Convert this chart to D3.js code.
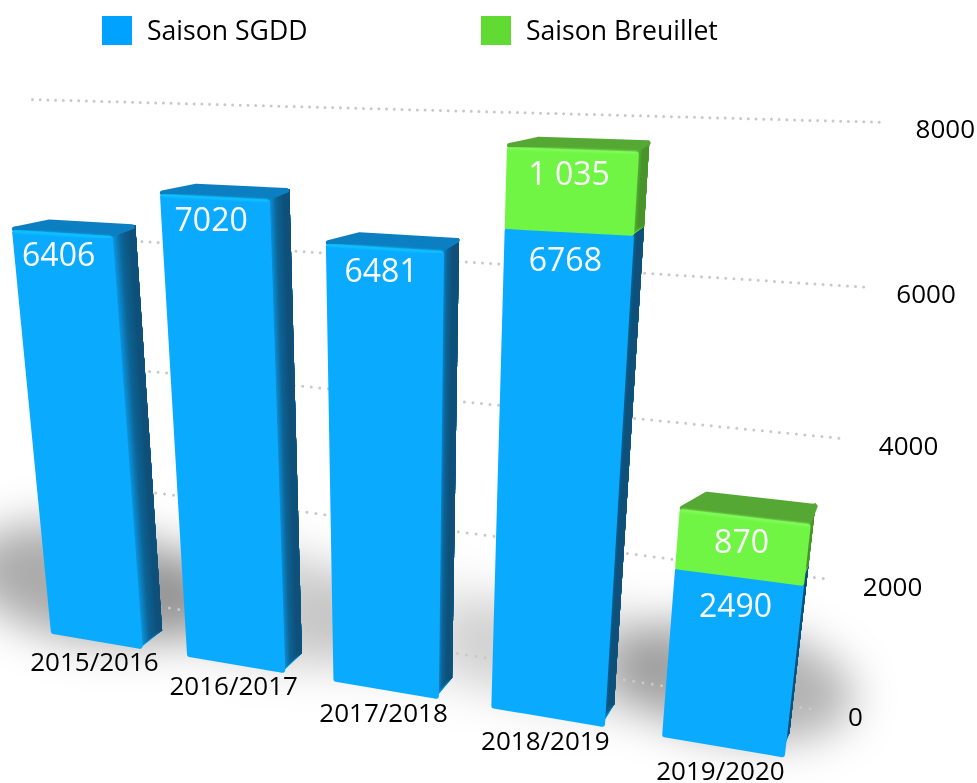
<!DOCTYPE html>
<html>
<head>
<meta charset="utf-8">
<title>Saisons</title>
<script src="https://d3js.org/d3.v7.min.js"></script>
<style>
    html, body { margin: 0; padding: 0; background: #fff; }
    svg { display: block; }
    text { font-family: "Open Sans", "Noto Sans", sans-serif; }
</style>
</head>
<body>
<div id="chart"></div>
<script>
// chart values
const categories = ["2015/2016", "2016/2017", "2017/2018", "2018/2019", "2019/2020"];
const sgdd = [6406, 7020, 6481, 6768, 2490];
const breuillet = [0, 0, 0, 1035, 870];
const breuilletLabels = ["", "", "", "1 035", "870"];
const yTicks = [0, 2000, 4000, 6000, 8000];
const seriesNames = ["Saison SGDD", "Saison Breuillet"];

const width = 977, height = 783;

const svg = d3.select("#chart").append("svg")
    .attr("width", width)
    .attr("height", height);
const defs = svg.append("defs");

// blur for the floor shadows
defs.append("filter").attr("id", "soft")
    .attr("x", "-60%").attr("y", "-60%").attr("width", "220%").attr("height", "220%")
    .append("feGaussianBlur").attr("stdDeviation", 22);
defs.append("filter").attr("id", "glow")
    .append("feGaussianBlur").attr("stdDeviation", 0.8);

// category position and value height, before the perspective is applied
const u = d3.scaleBand().domain(categories).range([0, 4.685]).paddingInner(0.315);
const t = d3.scaleLinear().domain([0, 8000]).range([0, 8]);

// perspective of the 3d plot, fitted on the picture. w is the depth (0 = front of the bars)
function project(pu, pt, w) {
    const q = 0.025 * (w || 0);
    const den = 1 - 0.03506 * pu - 0.016 * pt + q;
    return [
        (51 + 129.3 * pu - 6.35 * pt + 908 * q) / den,
        (634 - 66.9 * pt - 117 * q) / den
    ];
}

const line = d3.line();

// series stack
const table = categories.map((c, i) => ({category: c, sgdd: sgdd[i], breuillet: breuillet[i]}));
const stacked = d3.stack().keys(["sgdd", "breuillet"])(table);

const colors = {
    sgdd: {
        front: "#0aabff", edge: "#12c6ff", top: "#0b7fc2",
        side: d3.scaleLinear().domain([0, 0.25, 0.5, 1]).range(["#0aabff", "#0c86c8", "#0d6496", "#0e4d74"])
    },
    breuillet: {
        front: "#70f545", edge: "#86fb5e", top: "#55a833",
        side: d3.scaleLinear().domain([0, 0.25, 1]).range(["#70f545", "#5cc437", "#468f2a"])
    }
};

// shadows
const shadowStrength = [0.33, 0.17, 0.07, 0.12, 0.3];
const shadowShift = [-38, 0, 0, 0, 0];
const shadowGroup = svg.append("g").attr("filter", "url(#soft)");
categories.forEach(function (c, i) {
    const mid = u(c) + u.bandwidth() / 2;
    const p = project(mid, 0, 1.6);
    const cx = p[0] + shadowShift[i], cy = p[1] - 28;
    shadowGroup.append("ellipse")
        .attr("cx", cx)
        .attr("cy", cy)
        .attr("rx", 125)
        .attr("ry", 58)
        .attr("transform", `rotate(10 ${cx} ${cy})`)
        .attr("fill", "#000")
        .attr("opacity", shadowStrength[i]);
});

// grid lines on the back wall
const dash = d3.scaleLinear().domain([0, 8000]).range([9.4, 7.7]);
const grid = svg.append("g");
yTicks.forEach(function (d) {
    grid.append("path")
        .attr("d", line([project(-0.14, t(d), 2.12), project(4.8, t(d), 2.12)]))
        .attr("fill", "none")
        .attr("stroke", "#c9c9c9")
        .attr("stroke-width", 3)
        .attr("stroke-linecap", "round")
        .attr("stroke-dasharray", `0 ${dash(d)}`);

    const pos = project(4.97, t(d), 2.12);
    svg.append("text")
        .attr("x", pos[0] + 4 - t(d) * 1.1)
        .attr("y", pos[1] + 12 + t(d) * 0.3)
        .attr("font-size", 26)
        .attr("fill", "#000")
        .text(d);
});

// bars, one face at a time
const steps = d3.range(0, 1, 1 / 14);
const barGroup = svg.append("g");
categories.forEach(function (c, i) {
    const bar = barGroup.append("g");
    const u0 = u(c), u1 = u(c) + u.bandwidth();
    const tops = [];

    stacked.forEach(function (layer) {
        const k = layer.key;
        const t0 = t(layer[i][0]), t1 = t(layer[i][1]);
        if (t1 <= t0) return;
        tops.push({key: k, t0: t0, t1: t1});

        // side face, painted over itself from front to back to shade it along the depth
        steps.forEach(function (s) {
            bar.append("path")
                .attr("d", line([project(u1 - 0.03, t0, s), project(u1 - 0.03, t1, s), project(u1, t1, 1), project(u1, t0, 1)]) + "Z")
                .attr("fill", colors[k].side(s));
        });
    });

    // top face of the whole stack
    const last = tops[tops.length - 1];
    bar.append("path")
        .attr("d", line([project(u0 + 0.02, last.t1, 0), project(u1 - 0.02, last.t1, 0), project(u1, last.t1, 0.85), project(u0 + 0.12, last.t1, 0.85)]) + "Z")
        .attr("fill", colors[last.key].top)
        .attr("stroke", colors[last.key].top)
        .attr("stroke-width", 5)
        .attr("stroke-linejoin", "round");

    // front faces
    tops.forEach(function (d) {
        const inset = d === last ? 0.05 : 0;
        bar.append("path")
            .attr("d", line([project(u0 + 0.02, d.t0 + 0.05, 0), project(u1 - 0.02, d.t0 + 0.05, 0), project(u1 - 0.02, d.t1 - inset, 0), project(u0 + 0.02, d.t1 - inset, 0)]) + "Z")
            .attr("fill", colors[d.key].front)
            .attr("stroke", colors[d.key].front)
            .attr("stroke-width", 5)
            .attr("stroke-linejoin", "round");
    });

    // light edge under the top face
    bar.append("path")
        .attr("d", line([project(u0 + 0.02, last.t1 - 0.03, 0), project(u1 - 0.02, last.t1 - 0.03, 0)]))
        .attr("stroke", colors[last.key].edge)
        .attr("stroke-width", 2.5)
        .attr("stroke-linecap", "round")
        .attr("filter", "url(#glow)");

    // values
    tops.forEach(function (d) {
        const mid = (u0 + u1) / 2;
        const pos = project(mid, d.t1, 0);
        bar.append("text")
            .attr("x", pos[0] - 3)
            .attr("y", pos[1] + 34 + i)
            .attr("text-anchor", "middle")
            .attr("font-size", 32)
            .attr("fill", "#fff")
            .text(d.key === "sgdd" ? sgdd[i] : breuilletLabels[i]);
    });

    // category label
    const base = project((u0 + u1) / 2, 0, 0);
    svg.append("text")
        .attr("x", base[0] - 2)
        .attr("y", base[1] + 29 + i * 0.9)
        .attr("text-anchor", "middle")
        .attr("font-size", 26)
        .attr("fill", "#000")
        .text(c);
});

// legend
const legendX = d3.scalePoint().domain(seriesNames).range([102, 481]);
const legendColors = d3.scaleOrdinal().domain(seriesNames).range(["#00a2ff", "#61da33"]);
seriesNames.forEach(function (name) {
    svg.append("rect")
        .attr("x", legendX(name))
        .attr("y", 16)
        .attr("width", 30)
        .attr("height", 29)
        .attr("fill", legendColors(name));
    svg.append("text")
        .attr("x", legendX(name) + 45)
        .attr("y", 40)
        .attr("font-size", 26.6)
        .attr("fill", "#000")
        .text(name);
});
</script>
</body>
</html>
